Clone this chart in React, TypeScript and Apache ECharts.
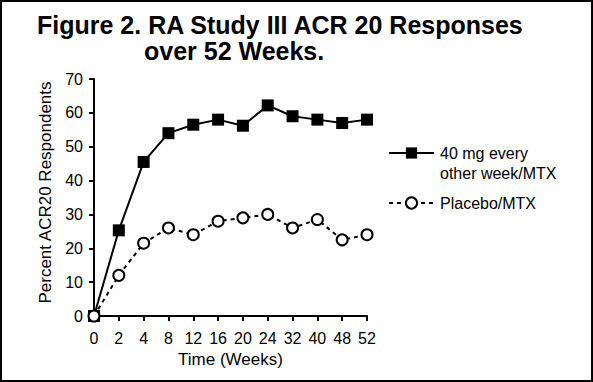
import React, { useEffect, useRef } from "react";
import * as echarts from "echarts";

const weeks = ["0", "2", "4", "8", "12", "16", "20", "24", "32", "40", "48", "52"];
const adalimumab = [0, 25.3, 45.5, 54, 56.5, 58, 56.2, 62.2, 59, 58, 57, 58];
const placebo = [0, 12, 21.5, 26, 24, 28, 29, 30, 26, 28.5, 22.5, 24];
const yTicks = { min: 0, max: 70, interval: 10 };
const titleLines = ["Figure 2. RA Study III ACR 20 Responses", "over 52 Weeks."];
const seriesNames = ["40 mg every other week/MTX", "Placebo/MTX"];

const FONT = "'Liberation Sans', Arial, Helvetica, sans-serif";

export default function App() {
  const ref = useRef<HTMLDivElement>(null);
  useEffect(() => {
    if (!ref.current) return;
    const chart = echarts.init(ref.current, null, { renderer: "svg" });
    chart.setOption({
      animation: false,
      backgroundColor: "#fff",
      textStyle: { fontFamily: FONT, color: "#000" },
      title: [
        {
          text: titleLines[0],
          left: 37,
          top: 13,
          padding: 0,
          textStyle: { fontFamily: FONT, fontSize: 25, lineHeight: 24, fontWeight: "bold", color: "#000" },
        },
        {
          text: titleLines[1],
          left: 144,
          top: 38.5,
          padding: 0,
          textStyle: { fontFamily: FONT, fontSize: 25, lineHeight: 24, fontWeight: "bold", color: "#000" },
        },
      ],
      graphic: [
        {
          type: "rect",
          shape: { x: 1, y: 1, width: 591, height: 380 },
          style: { fill: "none", stroke: "#000", lineWidth: 2 },
          silent: true,
        },
      ],
      legend: [
        {
          data: [seriesNames[0]],
          orient: "vertical",
          left: 388,
          top: 123,
          itemWidth: 45,
          itemHeight: 14,
          padding: 0,
          formatter: () => " \n40 mg every\nother week/MTX",
          textStyle: { fontFamily: FONT, fontSize: 16, color: "#000", lineHeight: 20, padding: [0, 0, 0, 1] },
          selectedMode: false,
        },
        {
          data: [seriesNames[1]],
          orient: "vertical",
          left: 388,
          top: 195,
          itemWidth: 45,
          itemHeight: 14,
          padding: 0,
          textStyle: { fontFamily: FONT, fontSize: 16, color: "#000", padding: [0, 0, 0, 1] },
          selectedMode: false,
        },
      ],
      grid: { left: 94, right: 226, top: 79, bottom: 66 },
      xAxis: {
        type: "category",
        data: weeks,
        boundaryGap: false,
        name: "Time (Weeks)",
        nameLocation: "middle",
        nameGap: 34,
        nameTextStyle: { fontFamily: FONT, fontSize: 17, color: "#000" },
        axisLine: { lineStyle: { color: "#000", width: 2 } },
        axisTick: { show: true, length: 5, alignWithLabel: true, lineStyle: { color: "#000", width: 2 } },
        axisLabel: { fontFamily: FONT, fontSize: 16, color: "#000", margin: 14, interval: 0 },
        splitLine: { show: false },
      },
      yAxis: {
        type: "value",
        min: yTicks.min,
        max: yTicks.max,
        interval: yTicks.interval,
        name: "Percent ACR20 Respondents",
        nameLocation: "middle",
        nameGap: 40,
        nameTextStyle: { fontFamily: FONT, fontSize: 17, color: "#000", padding: [0, 0, 0, 10] },
        axisLine: { show: true, lineStyle: { color: "#000", width: 2 } },
        axisTick: { show: true, length: 5, lineStyle: { color: "#000", width: 2 } },
        axisLabel: { fontFamily: FONT, fontSize: 16, color: "#000", margin: 11 },
        splitLine: { show: false },
      },
      series: [
        {
          name: seriesNames[0],
          type: "line",
          data: adalimumab,
          symbol: "rect",
          symbolSize: 12,
          lineStyle: { color: "#000", width: 2, type: "solid" },
          itemStyle: { color: "#000", borderColor: "#000", borderWidth: 0 },
          z: 2,
        },
        {
          name: seriesNames[1],
          type: "line",
          data: placebo,
          symbol: "circle",
          symbolSize: 11,
          lineStyle: { color: "#000", width: 2, type: [4, 4] },
          itemStyle: { color: "#fff", borderColor: "#000", borderWidth: 2 },
          z: 3,
        },
      ],
    });
    return () => chart.dispose();
  }, []);
  return (
    <div
      ref={ref}
      style={{ position: "fixed", left: 0, top: 0, width: 593, height: 382 }}
    />
  );
}
